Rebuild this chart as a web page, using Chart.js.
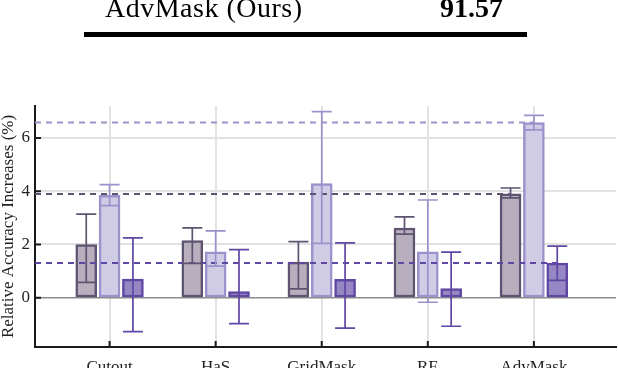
<!DOCTYPE html>
<html>
<head>
<meta charset="utf-8">
<script src="https://cdn.jsdelivr.net/npm/chart.js@4.4.0/dist/chart.umd.min.js"></script>
<style>
  html, body { margin:0; padding:0; background:#fff; overflow:hidden; }
  #wrap { position:relative; width:618px; height:368px; }
  #chart { position:absolute; left:0; top:0; }
  .tbl { position:absolute; font-family:"Liberation Serif","DejaVu Serif",serif; font-size:28px; line-height:28px; color:#000; white-space:nowrap; }
  #rule { position:absolute; left:84px; top:32px; width:443px; height:5px; background:#000; }
</style>
</head>
<body>
<div id="wrap">
  <canvas id="chart" width="618" height="368"></canvas>
  <div class="tbl" style="left:105px; top:-6px; letter-spacing:0.5px;">AdvMask (Ours)</div>
  <div class="tbl" style="left:440px; top:-6px; font-weight:bold;">91.57</div>
  <div id="rule"></div>
</div>
<script>
const categories = ["Cutout", "HaS", "GridMask", "RE", "AdvMask"];
const yTicks = [0, 2, 4, 6];

// three series per method: bar = mean, whisker = low..high
const darkMean  = [2.00, 2.15, 1.34, 2.62, 3.90];
const darkLow   = [0.58, 1.29, 0.33, 2.39, 3.75];
const darkHigh  = [3.14, 2.62, 2.11, 3.04, 4.12];

const lightMean = [3.85, 1.72, 4.29, 1.72, 6.58];
const lightLow  = [3.46, 1.19, 2.04, -0.17, 6.30];
const lightHigh = [4.25, 2.51, 6.99, 3.67, 6.85];

const midMean   = [0.70, 0.23, 0.69, 0.34, 1.30];
const midLow    = [-1.27, -0.97, -1.14, -1.07, 0.65];
const midHigh   = [2.25, 1.81, 2.06, 1.71, 1.94];

const X_MIN = 0.297, X_MAX = 5.774;
const OFF = 0.22;

const series = [
  { mean: darkMean,  low: darkLow,  high: darkHigh,  off: -OFF, fill: "#b7afbd", line: "#5e5472" },
  { mean: lightMean, low: lightLow, high: lightHigh, off: 0,    fill: "#d0cce6", line: "#9b92cc" },
  { mean: midMean,   low: midLow,   high: midHigh,   off: OFF,  fill: "#9587c3", line: "#5f47a3" },
];

const serif = "'Liberation Serif', 'DejaVu Serif', serif";

const barSets = series.map(s => ({
  type: "bar",
  data: s.mean.map((v, i) => ({ x: i + 1 + s.off, y: v })),
  backgroundColor: s.fill,
  borderColor: s.line,
  borderWidth: 2.5,
  borderSkipped: false,
  barThickness: 21,
  grouped: false,
  order: 3,
}));

// dashed reference lines at the AdvMask values
const last = categories.length - 1;
const refSets = series.map(s => ({
  type: "line",
  data: [{ x: X_MIN, y: s.mean[last] }, { x: last + 1 + s.off, y: s.mean[last] }],
  borderColor: s.line,
  borderWidth: 2,
  borderDash: [6, 5],
  pointRadius: 0,
  order: 1,
}));

const errorBars = {
  id: "errorBars",
  afterDatasetsDraw(chart) {
    const { ctx, scales: { x, y } } = chart;
    ctx.save();
    ctx.lineWidth = 1.7;
    series.forEach(s => {
      ctx.strokeStyle = s.line;
      s.mean.forEach((v, i) => {
        const px = x.getPixelForValue(i + 1 + s.off);
        const lo = y.getPixelForValue(s.low[i]);
        const hi = y.getPixelForValue(s.high[i]);
        ctx.beginPath();
        ctx.moveTo(px, lo); ctx.lineTo(px, hi);
        ctx.moveTo(px - 10, lo); ctx.lineTo(px + 10, lo);
        ctx.moveTo(px - 10, hi); ctx.lineTo(px + 10, hi);
        ctx.stroke();
      });
    });
    ctx.restore();
  },
  afterDraw(chart) {
    // inward tick marks
    const { ctx, chartArea: a, scales: { x, y } } = chart;
    ctx.save();
    ctx.strokeStyle = "#1a1a1a";
    ctx.lineWidth = 2;
    ctx.beginPath();
    yTicks.forEach(t => {
      const py = y.getPixelForValue(t);
      ctx.moveTo(a.left, py); ctx.lineTo(a.left + 6, py);
    });
    categories.forEach((c, i) => {
      const px = x.getPixelForValue(i + 1);
      ctx.moveTo(px, a.bottom); ctx.lineTo(px, a.bottom - 6);
    });
    ctx.stroke();
    ctx.restore();
  }
};

new Chart(document.getElementById("chart"), {
  data: { datasets: [...refSets, ...barSets] },
  options: {
    responsive: false,
    animation: false,
    devicePixelRatio: 1,
    layout: { padding: { top: 106, right: 2, left: 0, bottom: 0 } },
    plugins: { legend: { display: false }, tooltip: { enabled: false } },
    scales: {
      x: {
        type: "linear",
        offset: false,
        min: X_MIN, max: X_MAX,
        afterBuildTicks: s => { s.ticks = categories.map((c, i) => ({ value: i + 1 })); },
        afterFit: s => { s.height = 21; },
        ticks: {
          callback: v => categories[v - 1],
          font: { family: serif, size: 17 },
          color: "#222",
          padding: 10,
          maxRotation: 0,
          autoSkip: false,
        },
        grid: { color: "#e2e2e2", lineWidth: 2, drawTicks: false, offset: false },
        border: { display: true, color: "#1a1a1a", width: 2 },
      },
      y: {
        min: -1.85, max: 7.2,
        afterBuildTicks: s => { s.ticks = yTicks.map(v => ({ value: v })); },
        afterFit: s => { s.width = 35; },
        ticks: {
          font: { family: serif, size: 17 },
          color: "#222",
          padding: 5,
        },
        grid: {
          color: c => c.tick && c.tick.value === 0 ? "#8c8c8c" : "#e2e2e2",
          lineWidth: c => c.tick && c.tick.value === 0 ? 1.5 : 2,
          drawTicks: false,
        },
        border: { display: true, color: "#1a1a1a", width: 2 },
        title: {
          display: true,
          text: "Relative Accuracy Increases (%)",
          font: { family: serif, size: 17, lineHeight: 1.05 },
          color: "#222",
          padding: 0,
        },
      },
    },
  },
  plugins: [errorBars],
});
</script>
</body>
</html>
